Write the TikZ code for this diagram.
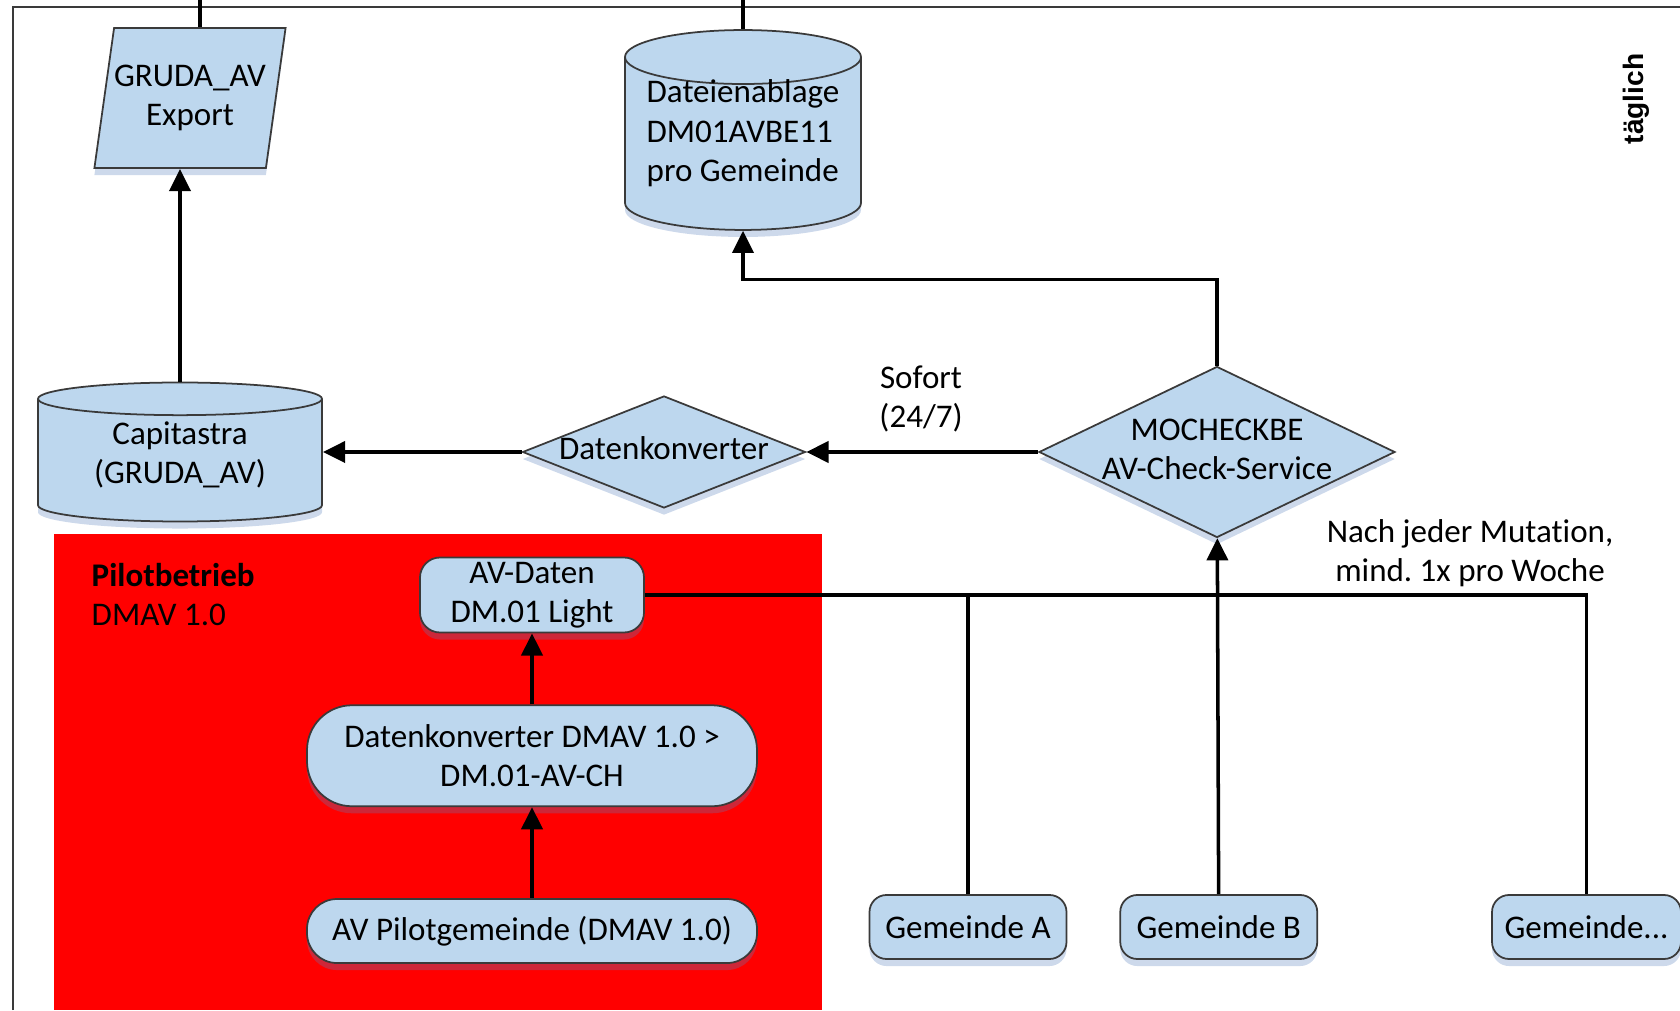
\documentclass[tikz,border=0pt]{standalone}
\usepackage{fontspec}
\setmainfont{Carlito}[Ligatures=NoCommon]
\newfontfamily\arialfont{Liberation Sans}
\usetikzlibrary{positioning,shapes.geometric,arrows.meta,shadows}

\definecolor{boxblue}{HTML}{BDD7EE}
\definecolor{edgegray}{HTML}{3A3A3A}
\definecolor{pilotred}{HTML}{FF0000}
\definecolor{shadeblue}{HTML}{5A82BE}

\newcommand{\zerowd}[1]{\makebox[0pt]{\begin{tabular}{@{}c@{}}#1\end{tabular}}}
\newcommand{\liftc}[2]{\raisebox{#1}[\height][\depth]{\begin{tabular}{@{}c@{}}#2\end{tabular}}}
\newcommand{\liftl}[2]{\raisebox{#1}[\height][\depth]{\begin{tabular}{@{}l@{}}#2\end{tabular}}}

\tikzset{
	every node/.style={font=\fontsize{9.4}{11.2}\selectfont},
	box/.style={draw=edgegray, fill=boxblue, line width=0.5pt, inner sep=0pt,
		drop shadow={shadow xshift=0pt, shadow yshift=-2pt, opacity=0.3, fill=shadeblue}},
	terminal/.style={box, rectangle, align=center},
	store/.style={box, cylinder, shape border rotate=90, anchor=shape center},
	io/.style={box, trapezium, trapezium left angle=82, trapezium right angle=98,
		trapezium stretches body=true, align=center},
	decision/.style={box, diamond},
	link/.style={line width=1pt},
	arr/.style={link, -{Triangle[length=6.3pt,width=6pt]}},
}

\begin{document}
\begin{tikzpicture}
	\useasboundingbox (0,0) rectangle (16.8,10.1);
	\fill[pilotred] (0.54,0) rectangle (8.22,4.76);
	\draw[edgegray, line width=0.6pt] (0.13,0) -- (0.13,10.03) -- (16.8,10.03);

	\node[io, minimum width=1.88cm, inner ysep=0.37cm] (export) at (1.90,9.12) {GRUDA\_AV\\Export};
	\node[store, minimum width=2.36cm, minimum height=1.89cm, aspect=0.28] (ablage) at (7.43,8.80) {\liftl{2.7pt}{Dateienablage\\DM01AVBE11\\pro Gemeinde}};
	\node[store, minimum width=2.84cm, minimum height=1.39cm, aspect=0.19] (capitastra) at (1.80,5.58) {\liftc{1.2pt}{Capitastra\\(GRUDA\_AV)}};
	\node[decision, minimum width=2.83cm, minimum height=1.12cm] (konverter) at (6.64,5.58) {\zerowd{Datenkonverter}};
	\node[decision, minimum width=3.56cm, minimum height=1.71cm] (mocheck) at (12.17,5.58) {\zerowd{MOCHECKBE\\AV-Check-Service}};
	\node[align=center] (sofort) at (9.21,6.11) {Sofort\\(24/7)};
	\node[align=center] (rhythmus) at (14.70,4.57) {Nach jeder Mutation,\\mind.\ 1x pro Woche};
	\node[rotate=90, font=\arialfont\bfseries\fontsize{8}{10}\selectfont] (taeglich) at (16.36,9.11) {täglich};

	\node[anchor=west, align=left, inner sep=0pt] (pilot) at (0.91,4.155) {\textbf{Pilotbetrieb}\\DMAV 1.0};
	\node[terminal, minimum width=2.24cm, minimum height=0.75cm, rounded corners=0.2cm] (avdaten) at (5.32,4.15) {AV-Daten\\DM.01 Light};
	\node[terminal, minimum width=4.50cm, minimum height=1.01cm, rounded corners=0.45cm, below=0.71cm of avdaten] (dmconv) {Datenkonverter DMAV 1.0 >\\DM.01-AV-CH};
	\node[terminal, minimum width=4.50cm, minimum height=0.64cm, rounded corners=0.3cm, below=0.91cm of dmconv] (pilotgem) {AV Pilotgemeinde (DMAV 1.0)};

	\node[terminal, minimum width=1.97cm, minimum height=0.64cm, rounded corners=0.17cm] (gemA) at (9.68,0.83) {Gemeinde A};
	\node[terminal, minimum width=1.97cm, minimum height=0.64cm, rounded corners=0.17cm, right=0.52cm of gemA] (gemB) {Gemeinde B};
	\node[terminal, minimum width=1.89cm, minimum height=0.64cm, rounded corners=0.17cm, right=1.73cm of gemB] (gemX) {Gemeinde...};

	\coordinate (exportup) at (export.top side |- 0,10.1);
	\coordinate (ablageup) at (ablage.north |- 0,10.1);
	\draw[link] (export.top side) -- (exportup);
	\draw[link] (ablage.north) -- (ablageup);

	\draw[arr] (capitastra.north) -- (capitastra.north |- export.bottom side);
	\draw[arr] (konverter.west) -- (konverter.west -| capitastra.east);
	\draw[arr] (mocheck.west) -- (konverter.east);
	\draw[arr] (mocheck.north) -- ++(0,0.86) -| (ablage.south);

	\draw[arr] (pilotgem) -- (dmconv);
	\draw[arr] (dmconv) -- (avdaten);
	\draw[link] (avdaten.east) -| (gemX.north);
	\draw[link] (gemA.north) -- (gemA.north |- avdaten.east);
	\draw[arr] (gemB) -- (mocheck);
\end{tikzpicture}
\end{document}
